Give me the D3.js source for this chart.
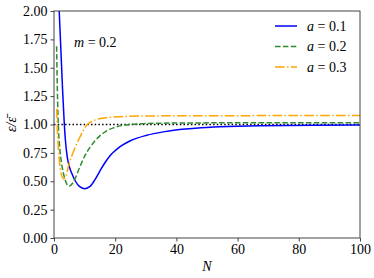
<!DOCTYPE html>
<html><head><meta charset="utf-8">
<script src="https://cdn.jsdelivr.net/npm/d3@7"></script>
<style>body{margin:0;background:#fff}svg{display:block}</style>
</head><body><div id="c"></div>
<script>
const xTicks = [0,20,40,60,80,100];
const yTicks = [0,0.25,0.5,0.75,1.0,1.25,1.5,1.75,2.0];
const seriesNames = ["a = 0.1","a = 0.2","a = 0.3"];
const curveA1 = [[1.7,2.0],[2.8,1.31],[3.3,1.04],[3.7,0.87],[4.3,0.72],[5,0.63],[5.8,0.57],[7,0.5],[8.3,0.455],[10,0.435],[11.8,0.455],[13.4,0.515],[15,0.59],[16.7,0.665],[18.3,0.725],[20,0.77],[21.6,0.805],[24.8,0.855],[30.3,0.905],[35.7,0.935],[41,0.955],[52,0.977],[67,0.988],[85,0.994],[100,0.996]];
const curveA2 = [[0.85,1.69],[1.0,1.45],[1.2,1.18],[1.4,1.0],[1.8,0.82],[2.3,0.69],[3,0.58],[3.8,0.5],[4.9,0.455],[6,0.48],[7,0.53],[8.5,0.63],[10,0.72],[11.8,0.8],[13.5,0.86],[15,0.9],[17,0.94],[19.4,0.97],[22,0.99],[24.8,1.0],[30,1.008],[40,1.013],[60,1.015],[100,1.016]];
const curveA3 = [[0.9,1.14],[1.1,0.95],[1.4,0.8],[1.8,0.67],[2.3,0.57],[3.2,0.52],[4,0.55],[4.7,0.63],[5.5,0.7],[6.5,0.77],[7.4,0.83],[8.5,0.89],[9.6,0.95],[10.7,0.995],[12,1.022],[14,1.045],[17,1.06],[20,1.067],[25,1.072],[35,1.076],[60,1.078],[100,1.079]];
const refLine = [[0,1],[100,1]];
const colors = ["#0000ff","#2e8b2e","#ffa500"];
const dashes = [null,"5.5,2.4","9.6,2.4,1.5,2.4"];
const FF = '"Liberation Serif","Times New Roman",Tinos,serif';

const W=374,H=278, L=54,R=360,T=11,B=238;
const svg=d3.select("#c").append("svg").attr("width",W).attr("height",H);
const x=d3.scaleLinear().domain([0,100]).range([L,R]);
const y=d3.scaleLinear().domain([0,2]).range([B,T]);

svg.append("defs").append("clipPath").attr("id","cp").append("rect").attr("x",L).attr("y",T).attr("width",R-L).attr("height",B-T);

const line=d3.line().x(d=>x(d[0])).y(d=>y(d[1])).curve(d3.curveMonotoneX);
const g=svg.append("g").attr("clip-path","url(#cp)");
g.append("path").datum(refLine).attr("d",line).attr("fill","none").attr("stroke","#000").attr("stroke-width",1.5).attr("stroke-dasharray","1.5,2.2");
[curveA1,curveA2,curveA3].forEach((c,i)=>{
  const p=g.append("path").datum(c).attr("d",line).attr("fill","none").attr("stroke",colors[i]).attr("stroke-width",1.5);
  if(dashes[i]) p.attr("stroke-dasharray",dashes[i]);
});

svg.append("rect").attr("x",L).attr("y",T).attr("width",R-L).attr("height",B-T).attr("fill","none").attr("stroke","#444").attr("stroke-width",1);

const xa=svg.append("g").attr("transform",`translate(0,${B})`).call(d3.axisBottom(x).tickValues(xTicks).tickSize(3.5).tickPadding(3).tickFormat(d3.format("d")));
const ya=svg.append("g").attr("transform",`translate(${L},0)`).call(d3.axisLeft(y).tickValues(yTicks).tickSize(3.5).tickPadding(3).tickFormat(d3.format(".2f")));
[xa,ya].forEach(a=>{a.attr("font-family",null).attr("font-size",null);a.select(".domain").remove();a.selectAll("line").attr("stroke","#444");a.selectAll("text").style("font-family",FF).style("font-size","14px").attr("fill","#000");});

function txt(xx,yy){return svg.append("text").attr("x",xx).attr("y",yy).style("font-family",FF).style("font-size","14px");}
txt((L+R)/2,271).attr("text-anchor","middle").style("font-style","italic").text("N");
svg.append("text").attr("transform",`translate(16,${(T+B)/2}) rotate(-90)`).attr("text-anchor","middle").style("font-family",FF).style("font-size","14px").style("font-style","italic").text("ε/ε̄");

const mt=txt(74,47);
mt.append("tspan").style("font-style","italic").text("m");
mt.append("tspan").text(" = 0.2");

seriesNames.forEach((n,i)=>{
  const yy=26+i*20.5;
  const l=svg.append("line").attr("x1",275).attr("x2",297).attr("y1",yy).attr("y2",yy).attr("stroke",colors[i]).attr("stroke-width",1.5);
  if(dashes[i]) l.attr("stroke-dasharray",dashes[i]);
  const t=txt(307,yy+4.5);
  t.append("tspan").style("font-style","italic").text("a");
  t.append("tspan").text(" = "+n.split("= ")[1]);
});
</script></body></html>
